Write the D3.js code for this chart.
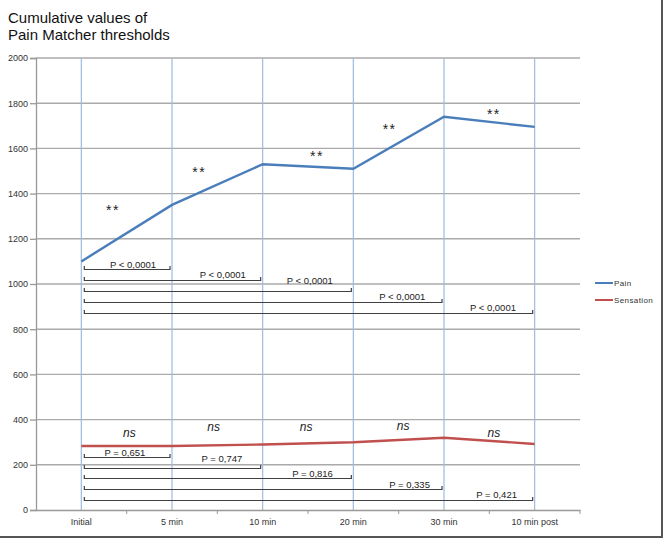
<!DOCTYPE html>
<html>
<head>
<meta charset="utf-8">
<script src="https://cdn.jsdelivr.net/npm/d3@7"></script>
<style>
  body { margin: 0; background: #fff; }
  text { font-family: "Liberation Sans", Arial, sans-serif; }
</style>
</head>
<body>
<div id="chart"></div>
<script>
// categories and series
var categories = ["Initial", "5 min", "10 min", "20 min", "30 min", "10 min post"];
var painValues = [1100, 1350, 1530, 1510, 1740, 1695];
var sensationValues = [283, 283, 290, 300, 320, 292];
var yTicks = [0, 200, 400, 600, 800, 1000, 1200, 1400, 1600, 1800, 2000];

// annotations (x as fractional category index, y in data units)
var starMarks = [[0.35, 1330], [1.3, 1500], [2.6, 1570], [3.4, 1690], [4.55, 1757]];
var nsMarks = [[0.53, 341], [1.46, 367], [2.48, 367], [3.55, 372], [4.55, 341]];
var painPLabels = ["P < 0,0001", "P < 0,0001", "P < 0,0001", "P < 0,0001", "P < 0,0001"];
var painPLabelPos = [[0.57, 1086], [1.56, 1042], [2.52, 1016], [3.54, 945], [4.54, 896]];
var painBracketLevels = [1065, 1017, 969, 921, 873];
var sensPLabels = ["P = 0,651", "P = 0,747", "P = 0,816", "P = 0,335", "P = 0,421"];
var sensPLabelPos = [[0.48, 255], [1.55, 228], [2.55, 162], [3.62, 113], [4.58, 69]];
var sensBracketLevels = [236, 188, 140, 92, 44];

var width = 665, height = 540;
var plot = {left: 36, right: 580, top: 58, bottom: 510};

var svg = d3.select("#chart").append("svg")
    .attr("width", width)
    .attr("height", height);

svg.append("rect").attr("width", width).attr("height", height).attr("fill", "#fff");

// scales
var x = d3.scaleBand().domain(categories).range([plot.left, plot.right]);
var cx = function (c) { return x(c) + x.bandwidth() / 2; };
var xi = d3.scaleLinear().domain([0, categories.length - 1])
    .range([cx(categories[0]), cx(categories[categories.length - 1])]);
var y = d3.scaleLinear().domain([0, 2000]).range([plot.bottom, plot.top]);

// horizontal grid
svg.append("g").selectAll("line")
    .data(yTicks.filter(function (d) { return d > 0; }))
    .enter().append("line")
    .attr("x1", plot.left).attr("x2", plot.right)
    .attr("y1", function (d) { return y(d); })
    .attr("y2", function (d) { return y(d); })
    .attr("stroke", "#aaaaaa")
    .attr("stroke-width", 1.4);

// vertical blue lines at categories
svg.append("g").selectAll("line")
    .data(categories)
    .enter().append("line")
    .attr("x1", cx).attr("x2", cx)
    .attr("y1", plot.top).attr("y2", plot.bottom)
    .attr("stroke", "#9dbbe0")
    .attr("stroke-width", 1.2);

// y axis
var gy = svg.append("g").attr("transform", "translate(" + plot.left + ",0)")
    .call(d3.axisLeft(y).tickValues(yTicks).tickSize(6).tickFormat(d3.format("d")));
gy.select(".domain").attr("stroke", "#999").attr("stroke-width", 1.3);
gy.selectAll(".tick line").attr("stroke", "#999").attr("stroke-width", 1.3);
gy.selectAll(".tick text").attr("font-size", "9px").attr("fill", "#333")
    .attr("font-family", "Liberation Sans, Arial, sans-serif").attr("x", -8);

// x axis
var gx = svg.append("g").attr("transform", "translate(0," + plot.bottom + ")")
    .call(d3.axisBottom(x).tickSize(0).tickPadding(9));
gx.select(".domain").attr("stroke", "#999").attr("stroke-width", 1.3);
gx.selectAll(".tick text").attr("font-size", "9px").attr("fill", "#333")
    .attr("font-family", "Liberation Sans, Arial, sans-serif");
// tick marks between bands
svg.append("g").selectAll("line")
    .data(categories)
    .enter().append("line")
    .attr("x1", function (d) { return x(d) + x.bandwidth(); })
    .attr("x2", function (d) { return x(d) + x.bandwidth(); })
    .attr("y1", plot.bottom).attr("y2", plot.bottom + 4)
    .attr("stroke", "#999");

// series lines
var line = d3.line()
    .x(function (d, i) { return cx(categories[i]); })
    .y(function (d) { return y(d); });

svg.append("path").datum(painValues)
    .attr("d", line).attr("fill", "none")
    .attr("stroke", "#4a7ebb").attr("stroke-width", 2.4);
svg.append("path").datum(sensationValues)
    .attr("d", line).attr("fill", "none")
    .attr("stroke", "#c0504d").attr("stroke-width", 2.4);

// brackets
function drawBrackets(levels, labels, labelPos) {
    var g = svg.append("g");
    var x0 = cx(categories[0]) + 3;
    levels.forEach(function (lv, i) {
        var x1 = cx(categories[i + 1]) - 2;
        var yy = Math.round(y(lv)) + 0.5;
        g.append("path")
            .attr("d", "M" + x0 + "," + (yy - 3.5) + "V" + yy + "H" + x1 + "V" + (yy - 3.5))
            .attr("fill", "none")
            .attr("stroke", "#404040")
            .attr("stroke-width", 1.2);
        g.append("text")
            .attr("x", xi(labelPos[i][0]))
            .attr("y", y(labelPos[i][1]))
            .attr("text-anchor", "middle")
            .attr("dominant-baseline", "central")
            .attr("font-size", "9.5px")
            .attr("fill", "#222")
            .text(labels[i]);
    });
}
drawBrackets(painBracketLevels, painPLabels, painPLabelPos);
drawBrackets(sensBracketLevels, sensPLabels, sensPLabelPos);

// significance marks
svg.append("g").selectAll("text")
    .data(starMarks)
    .enter().append("text")
    .attr("x", function (d) { return xi(d[0]); })
    .attr("y", function (d) { return y(d[1]) + 6; })
    .attr("text-anchor", "middle")
    .attr("font-size", "14px")
    .attr("letter-spacing", "1.5px")
    .attr("fill", "#222")
    .text("**");

svg.append("g").selectAll("text")
    .data(nsMarks)
    .enter().append("text")
    .attr("x", function (d) { return xi(d[0]); })
    .attr("y", function (d) { return y(d[1]); })
    .attr("text-anchor", "middle")
    .attr("dominant-baseline", "central")
    .attr("font-size", "12px")
    .attr("font-style", "italic")
    .attr("fill", "#222")
    .text("ns");

// legend
var legend = svg.append("g").attr("transform", "translate(595,283)");
[["Pain", "#4a7ebb"], ["Sensation", "#c0504d"]].forEach(function (d, i) {
    legend.append("line")
        .attr("x1", 0).attr("x2", 18)
        .attr("y1", i * 17).attr("y2", i * 17)
        .attr("stroke", d[1]).attr("stroke-width", 2);
    legend.append("text")
        .attr("x", 19).attr("y", i * 17)
        .attr("dominant-baseline", "central")
        .attr("font-size", "8px")
        .attr("letter-spacing", "0.4px")
        .attr("fill", "#333")
        .text(d[0]);
});

// title
var title = svg.append("text").attr("x", 8).attr("y", 23)
    .attr("font-size", "15px").attr("fill", "#111");
title.append("tspan").attr("x", 8).text("Cumulative values of");
title.append("tspan").attr("x", 8).attr("dy", 16.5).text("Pain Matcher thresholds");

// frame edges
svg.append("path")
    .attr("d", "M662,0V537H0")
    .attr("fill", "none")
    .attr("stroke", "#555")
    .attr("stroke-width", 2);
</script>
</body>
</html>
